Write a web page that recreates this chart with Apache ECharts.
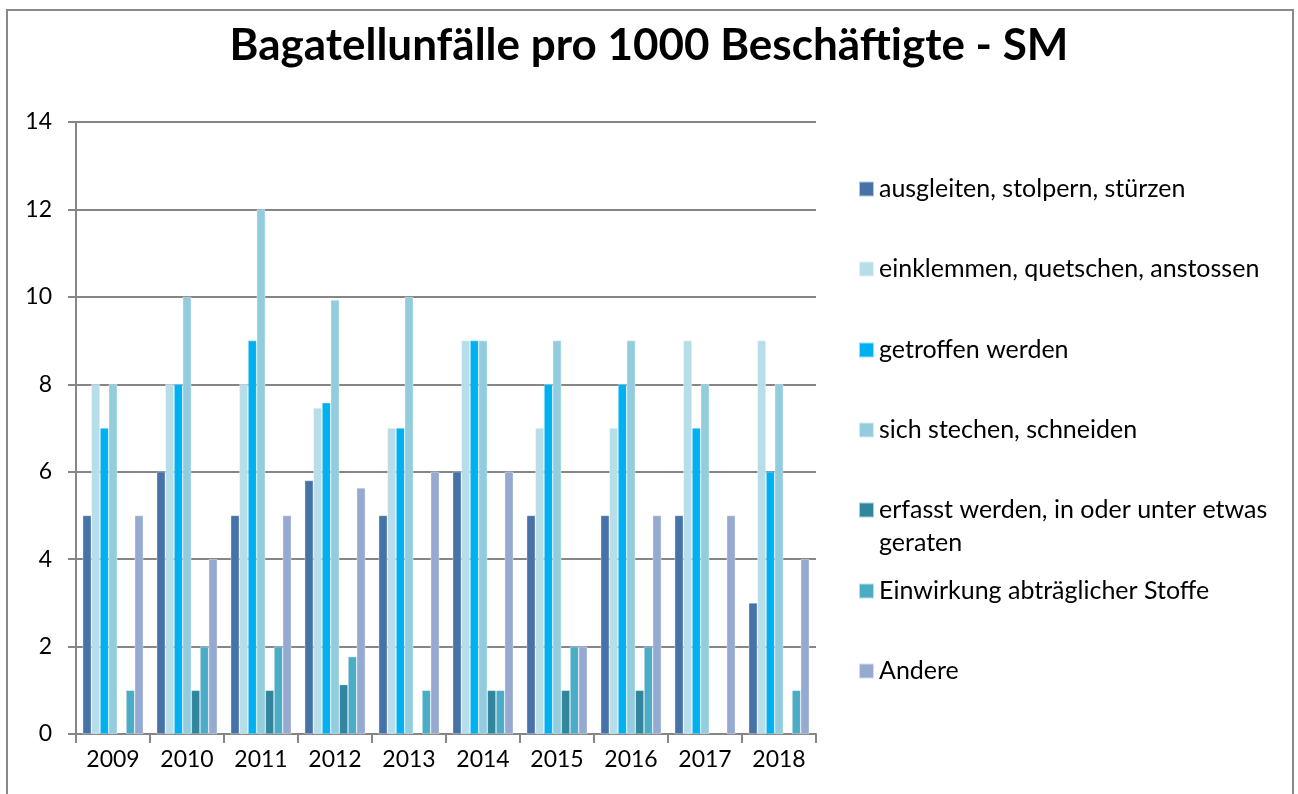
<!DOCTYPE html>
<html>

<head>
  <meta charset="UTF-8">
  <title>Bagatellunfälle pro 1000 Beschäftigte - SM</title>
  <script src="https://cdn.jsdelivr.net/npm/echarts@6/dist/echarts.min.js"></script>
  <style>
    html,
    body {
      margin: 0;
      padding: 0;
      background: #fff;
    }

    #chart {
      width: 1298px;
      height: 794px;
    }
  </style>
</head>

<body>
  <div id="chart"></div>
  <script>
    // Daten
    const years = ['2009', '2010', '2011', '2012', '2013', '2014', '2015', '2016', '2017', '2018'];
    const ausgleiten = [5, 6, 5, 5.8, 5, 6, 5, 5, 5, 3];
    const einklemmen = [8, 8, 8, 7.46, 7, 9, 7, 7, 9, 9];
    const getroffen = [7, 8, 9, 7.58, 7, 9, 8, 8, 7, 6];
    const stechen = [8, 10, 12, 9.93, 10, 9, 9, 9, 8, 8];
    const erfasst = [null, 1, 1, 1.13, null, 1, 1, 1, null, null];
    const einwirkung = [1, 2, 2, 1.77, 1, 1, 2, 2, null, 1];
    const andere = [5, 4, 5, 5.63, 6, 6, 2, 5, 5, 4];
    const yTicks = [0, 2, 4, 6, 8, 10, 12, 14];

    const seriesDefs = [
      { name: 'ausgleiten, stolpern, stürzen', data: ausgleiten, color: '#4672A8' },
      { name: 'einklemmen, quetschen, anstossen', data: einklemmen, color: '#B7DDE8' },
      { name: 'getroffen werden', data: getroffen, color: '#00B0F0' },
      { name: 'sich stechen, schneiden', data: stechen, color: '#93CDDD' },
      { name: 'erfasst werden, in oder unter etwas geraten', data: erfasst, color: '#31859C' },
      { name: 'Einwirkung abträglicher Stoffe', data: einwirkung, color: '#4BACC6' },
      { name: 'Andere', data: andere, color: '#95A9D1' }
    ];

    const font = 'Lato, "Liberation Sans", sans-serif';
    const legendCenters = [189, 269, 350, 430, 510, 591, 671];

    // eine Legende pro Eintrag, damit der zweizeilige Eintrag wie im Original sitzt
    const legends = seriesDefs.map((s, i) => {
      const twoLine = i === 4;
      const lh = twoLine ? 33 : 30;
      return {
        data: [s.name],
        left: 858,
        top: legendCenters[i] - (twoLine ? 1.5 * lh : 0.5 * lh),
        padding: 0,
        itemWidth: 15,
        itemHeight: 15,
        selectedMode: false,
        icon: 'rect',
        formatter: twoLine ? () => '\nerfasst werden, in oder unter etwas\ngeraten' : '{name}',
        textStyle: { fontFamily: font, fontSize: 25, color: '#000', lineHeight: lh }
      };
    });

    const chart = echarts.init(document.getElementById('chart'));
    chart.setOption({
      animation: false,
      backgroundColor: '#fff',
      title: {
        text: 'Bagatellunfälle pro 1000 Beschäftigte - SM',
        left: 'center',
        top: 19,
        textStyle: { fontFamily: font, fontSize: 44, fontWeight: 'bold', color: '#000' }
      },
      graphic: [{
        type: 'rect',
        shape: { x: 7, y: 10, width: 1286, height: 800 },
        style: { fill: 'none', stroke: '#898989', lineWidth: 2 },
        silent: true
      }],
      legend: legends,
      grid: { left: 76, right: 482, top: 122, bottom: 60 },
      xAxis: {
        type: 'category',
        data: years,
        axisLine: { lineStyle: { color: '#868686', width: 2 } },
        axisTick: { show: true, length: 9, lineStyle: { color: '#868686', width: 2 } },
        axisLabel: { fontFamily: font, fontSize: 23, color: '#000', margin: 14 }
      },
      yAxis: {
        type: 'value',
        min: 0,
        max: 14,
        interval: 2,
        axisLine: { show: true, lineStyle: { color: '#868686', width: 2 } },
        axisTick: { show: true, length: 8, lineStyle: { color: '#868686', width: 2 } },
        axisLabel: {
          fontFamily: font, fontSize: 23, color: '#000', margin: 24,
          formatter: v => (yTicks.includes(v) ? String(v) : '')
        },
        splitLine: { lineStyle: { color: '#868686', width: 2 } }
      },
      series: seriesDefs.map(s => ({
        name: s.name,
        type: 'bar',
        data: s.data,
        barGap: '0%',
        barCategoryGap: '18%',
        itemStyle: { color: s.color, borderColor: 'rgba(255,255,255,0.6)', borderWidth: 0.6 }
      }))
    });
  </script>
</body>

</html>
